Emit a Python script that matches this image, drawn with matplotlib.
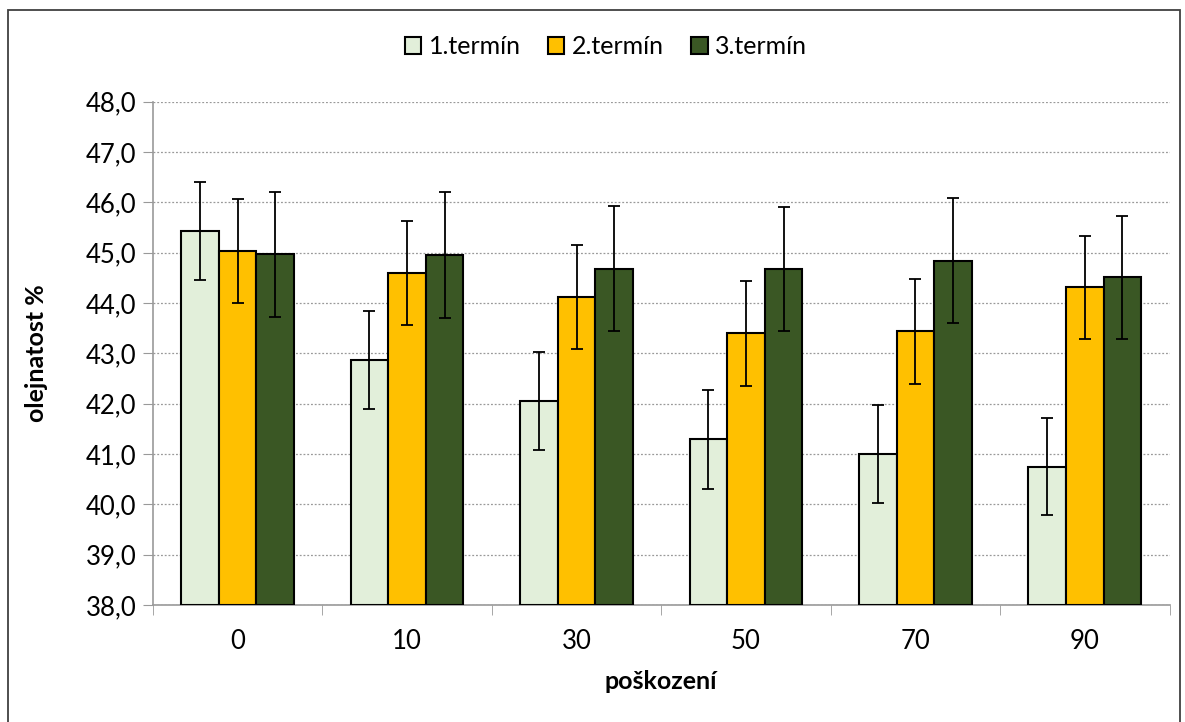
import matplotlib
matplotlib.use("Agg")
import matplotlib.pyplot as plt
import numpy as np
from matplotlib.patches import Rectangle
from matplotlib.ticker import FuncFormatter

categories = ["0", "10", "30", "50", "70", "90"]
series_names = ["1.termín", "2.termín", "3.termín"]

termin1 = [45.43, 42.87, 42.05, 41.29, 41.00, 40.75]
termin2 = [45.04, 44.60, 44.12, 43.40, 43.44, 44.31]
termin3 = [44.97, 44.95, 44.68, 44.68, 44.84, 44.51]

err1 = [0.97, 0.975, 0.975, 0.98, 0.98, 0.97]
err2 = [1.03, 1.03, 1.03, 1.04, 1.04, 1.03]
err3 = [1.24, 1.25, 1.24, 1.23, 1.24, 1.23]

colors = ["#E2EFDA", "#FFC000", "#3A5724"]

plt.rcParams['font.family'] = ['Lato', 'DejaVu Sans']

fig = plt.figure(figsize=(11.85, 7.22), dpi=100)
ax = fig.add_axes([0.129, 0.162, 0.858, 0.697])

x = np.arange(len(categories))
width = 0.222
values = [termin1, termin2, termin3]
errors = [err1, err2, err3]
for i in range(3):
    pos = x + (i - 1) * width
    ax.bar(pos, np.array(values[i]) - 38, width, bottom=38, color=colors[i],
           edgecolor="black", linewidth=1.5, label=series_names[i], zorder=3)
    ax.errorbar(pos, values[i], yerr=errors[i], fmt="none", ecolor="black",
                elinewidth=1.3, capsize=4.5, capthick=1.3, zorder=4)

ax.set_xlim(-0.5, len(categories) - 0.5)
ax.set_ylim(38, 48)
ax.set_yticks(np.arange(38, 48.1, 1))
ax.yaxis.set_major_formatter(FuncFormatter(lambda v, p: f"{v:.1f}".replace(".", ",")))
ax.set_xticks(x)
ax.set_xticklabels(categories)
ax.set_xticks(np.arange(-0.5, len(categories), 1), minor=True)
ax.tick_params(axis="x", which="major", length=0, pad=17, labelsize=18.5)
ax.tick_params(axis="x", which="minor", length=7, color="#999999")
ax.tick_params(axis="y", length=7, color="#999999", labelsize=18.5, pad=5)

ax.grid(axis="y", linestyle=(0, (1.5, 1.5)), color="#999999", linewidth=0.9, zorder=0)
for s in ["top", "right"]:
    ax.spines[s].set_visible(False)
for s in ["left", "bottom"]:
    ax.spines[s].set_color("#999999")
    ax.spines[s].set_linewidth(1.2)

ax.set_ylabel("olejnatost %", fontsize=18, fontweight="bold")
ax.yaxis.set_label_coords(-0.103, 0.5)
ax.set_xlabel("poškození", fontsize=18, fontweight="bold")
ax.xaxis.set_label_coords(0.5, -0.13)

fig.legend(loc="center", bbox_to_anchor=(606 / 1185, 1 - 47 / 722), ncol=3, frameon=False,
           fontsize=18, handlelength=0.65, handleheight=0.65, handletextpad=0.3,
           columnspacing=1.1)

fig.patches.append(Rectangle((8 / 1185, -0.02), (1180 - 8) / 1185, 1.0 - 10 / 722 + 0.02,
                             transform=fig.transFigure, fill=False,
                             edgecolor="#404040", linewidth=1.3))

fig.savefig("out.png", dpi=100)
